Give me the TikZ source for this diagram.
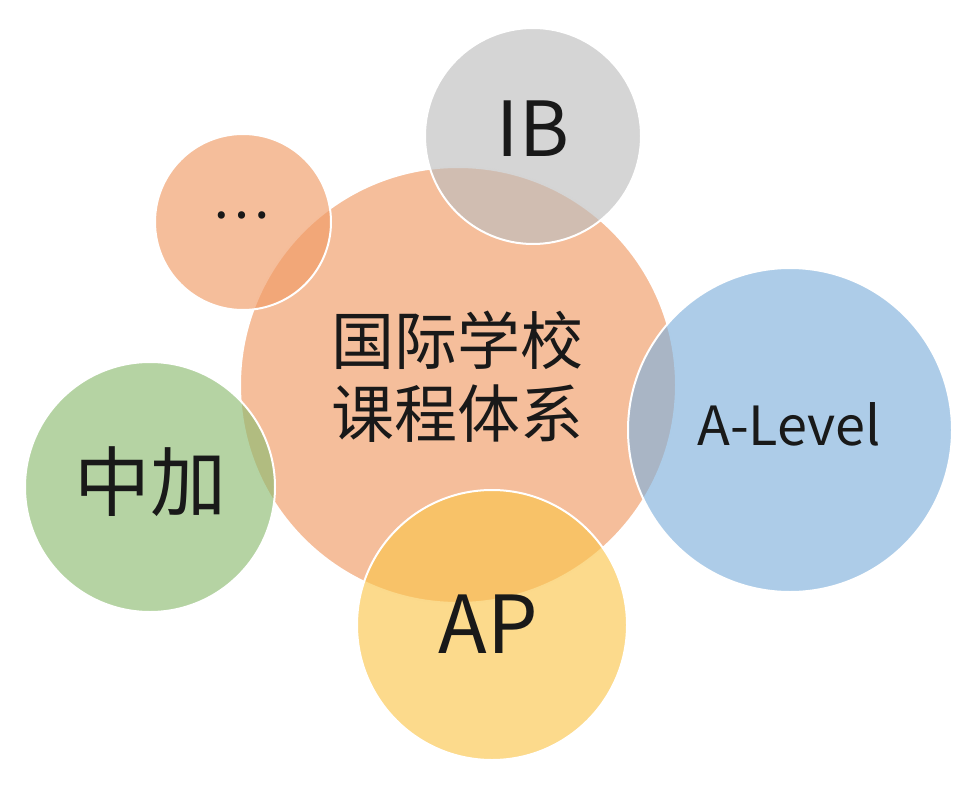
\documentclass[tikz,border=0pt]{standalone}
\usepackage{fontspec}
\setmainfont{Noto Sans CJK SC}
\definecolor{salmon}{RGB}{240,155,101}
\definecolor{ibgray}{RGB}{190,190,190}
\definecolor{lvlblue}{RGB}{129,177,220}
\definecolor{cagreen}{RGB}{141,188,114}
\definecolor{apyellow}{RGB}{250,198,78}
\def\bubble{\node[circle,draw=white,line width=1pt,inner sep=0pt,fill opacity=0.65]}
\def\tag{\node[inner sep=0pt,text=black!90]}

\begin{document}
\begin{tikzpicture}[x=0.5pt,y=-0.5pt]
\useasboundingbox (0,0) rectangle (979,791);
\bubble[fill=salmon,minimum size=218pt] (core) at (458,385) {};
\bubble[fill=ibgray,minimum size=108pt] (ib) at (533,136) {};
\bubble[fill=salmon,minimum size=88pt] (more) at (243,222) {};
\bubble[fill=lvlblue,minimum size=162pt] (alevel) at (790,430) {};
\bubble[fill=cagreen,minimum size=125pt] (zhongjia) at (150,487) {};
\bubble[fill=apyellow,minimum size=135pt] (ap) at (492,625) {};
% labels
\tag[align=center,font=\fontsize{31.5pt}{36.5pt}\selectfont] (coret) at (457,377) {国际学校\\课程体系};
\tag[anchor=base,font=\fontsize{38pt}{38pt}\selectfont] (ibt) at (533,157) {IB};
\tag[font=\fontsize{27pt}{27pt}\selectfont] (moret) at (241,215) {…};
\tag[anchor=base,font=\fontsize{27pt}{27pt}\selectfont] (alevelt) at (789,445) {A-Level};
\tag[font=\fontsize{38pt}{38pt}\selectfont] (zhongjiat) at (150,482) {中加};
\tag[anchor=base,font=\fontsize{40pt}{40pt}\selectfont] (apt) at (488,653) {AP};
\end{tikzpicture}
\end{document}
